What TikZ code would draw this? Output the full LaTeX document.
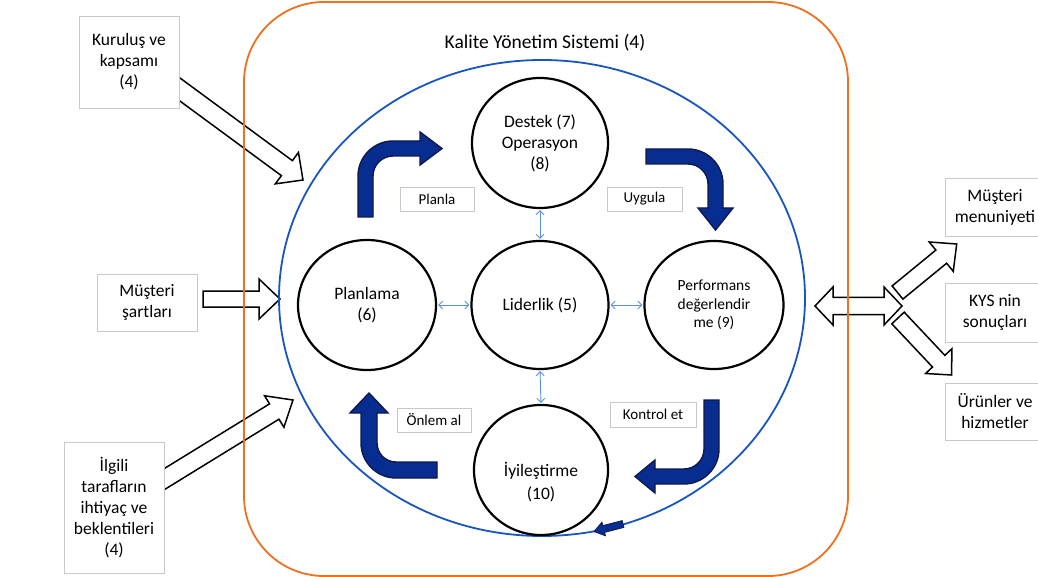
\documentclass[tikz,border=0pt]{standalone}
\usepackage{fontspec}
\setmainfont{Carlito}
\usetikzlibrary{calc,shapes.geometric,arrows.meta}
\pgfdeclarelayer{bg}
\pgfdeclarelayer{back}
\pgfsetlayers{bg,back,main}

\definecolor{kysorange}{RGB}{240,112,32}
\definecolor{kysblue}{RGB}{25,85,190}
\definecolor{linkblue}{RGB}{90,145,215}
\definecolor{navyfill}{RGB}{8,45,145}
\definecolor{navyline}{RGB}{15,25,75}
\definecolor{boxgray}{RGB}{200,200,200}

\tikzset{
  topic/.style={ellipse, draw=black, line width=2.2pt, fill=white, inner sep=0pt,
    align=center, font=\fontsize{17.5}{21}\selectfont},
  sidebox/.style={draw=boxgray, line width=0.8pt, fill=white, inner sep=0pt,
    align=center, font=\fontsize{17.5}{21}\selectfont},
  tagbox/.style={draw=boxgray, line width=0.8pt, fill=white, inner sep=0pt,
    font=\fontsize{15}{18}\selectfont},
  whitearrow/.style={draw=black, line width=1.5pt, fill=white, line join=miter},
  cyclearrow/.style={draw=navyline, line width=1.4pt, fill=navyfill, line join=miter},
  link/.style={linkblue, line width=0.9pt, shorten >=1pt, shorten <=1pt,
    {Straight Barb[length=4pt,width=8pt]}-{Straight Barb[length=4pt,width=8pt]}},
}

% block arrow: style, tail, tip, half shaft width, half head width, head length
\newcommand\blockarrow[6]{%
  \coordinate (ba-hb) at ($(#3)!#6!(#2)$);
  \draw[#1] ($(#2)!#4!90:(#3)$) -- ($(ba-hb)!#4!90:(#3)$) -- ($(ba-hb)!#5!90:(#3)$)
    -- (#3) -- ($(ba-hb)!#5!-90:(#3)$) -- ($(ba-hb)!#4!-90:(#3)$)
    -- ($(#2)!#4!-90:(#3)$) -- cycle;}

% double-headed block arrow: style, tip a, tip b, half shaft, half head, head length
\newcommand\dblockarrow[6]{%
  \coordinate (da-ha) at ($(#2)!#6!(#3)$);
  \coordinate (da-hb) at ($(#3)!#6!(#2)$);
  \draw[#1] (#2) -- ($(da-ha)!#5!90:(#3)$) -- ($(da-ha)!#4!90:(#3)$)
    -- ($(da-hb)!#4!-90:(#2)$) -- ($(da-hb)!#5!-90:(#2)$) -- (#3)
    -- ($(da-hb)!#5!90:(#2)$) -- ($(da-hb)!#4!90:(#2)$)
    -- ($(da-ha)!#4!-90:(#3)$) -- ($(da-ha)!#5!-90:(#3)$) -- cycle;}

\begin{document}
\begin{tikzpicture}[x=1pt,y=-1pt]
\useasboundingbox (0,0) rectangle (1038,577);
\begin{pgfonlayer}{bg}
  \fill[white] (0,0) rectangle (1038,577);
\end{pgfonlayer}

% system frame and the PDCA ellipse
\node[draw=kysorange, line width=1.8pt, rounded corners=80pt, minimum width=604pt,
  minimum height=574pt, inner sep=0pt] (frame) at (546,289) {};
\node[ellipse, draw=kysblue, line width=1.8pt, minimum width=526pt, minimum height=476pt,
  inner sep=0pt] (kys) at (542,298) {};
\node[font=\fontsize{19.5}{23}\selectfont] (title) at (545,43) {Kalite Yönetim Sistemi (4)};

% clauses
\node[topic, minimum width=136pt, minimum height=130pt] (dest) at (540,143)
  {Destek (7)\\Operasyon\\(8)};
\node[topic, minimum width=137pt, minimum height=128pt] (lid) at (540,305) {Liderlik (5)};
\node[topic, minimum width=138pt, minimum height=130pt] (plan) at (367,305) {Planlama\\(6)};
\node[topic, minimum width=139pt, minimum height=128pt, font=\fontsize{15.5}{18.5}\selectfont]
  (perf) at (714,305) {Performans\\değerlendir\\me (9)};
\node[topic, minimum width=134pt, minimum height=130pt] (iyi) at (541,470) {};
\node[align=center, font=\fontsize{17.5}{23}\selectfont] (iyitxt) at (541,482)
  {İyileştirme\\(10)};

% leadership links
\draw[link] (dest.south) -- (lid.north);
\draw[link] (lid.south) -- (iyi.north);
\draw[link] (plan.east) -- (lid.west);
\draw[link] (lid.east) -- (perf.west);

% cycle step labels
\node[tagbox, minimum width=74pt, minimum height=24pt] (planla) at (437,199) {Planla};
\node[tagbox, minimum width=75pt, minimum height=24pt] (uygula) at (644.5,199) {Uygula};
\node[tagbox, minimum width=74pt, minimum height=24pt] (onlem) at (434,420) {Önlem al};
\node[tagbox, minimum width=86pt, minimum height=25pt] (kontrol) at (653,414.5) {Kontrol et};

% PDCA bent arrows
\draw[cyclearrow] (358,217) -- (358,176) .. controls (358,156.7) and (373.7,141) .. (393,141)
  -- (420,141) -- (420,132) -- (442,148.5) -- (420,165) -- (420,156) -- (393,156)
  .. controls (382,156) and (373,165) .. (373,176) -- (373,217) -- cycle;
\draw[cyclearrow] (646,149) -- (688,149) .. controls (707.3,149) and (723,164.7) .. (723,184)
  -- (723,208) -- (733,208) -- (715.5,230) -- (698,208) -- (708,208) -- (708,184)
  .. controls (708,173) and (699,164) .. (688,164) -- (646,164) -- cycle;
\draw[cyclearrow] (704,400) -- (719,400) -- (719,449) .. controls (719,468.3) and (703.3,484) .. (684,484)
  -- (655,484) -- (655,493) -- (635,476.5) -- (655,460) -- (655,469) -- (684,469)
  .. controls (695,469) and (704,460) .. (704,449) -- cycle;
\draw[cyclearrow] (437,478) -- (396,478) .. controls (376.7,478) and (361,462.3) .. (361,443)
  -- (361,413) -- (350,413) -- (369,393) -- (388,413) -- (377,413) -- (377,443)
  .. controls (377,453.5) and (385.5,462) .. (396,462) -- (437,462) -- cycle;

% small arrow on the ellipse
\coordinate (loopa) at (623,524);
\coordinate (loopb) at (594,531.5);
\blockarrow{cyclearrow, line width=0.8pt}{loopa}{loopb}{3.5pt}{7pt}{10pt}

% inputs and outputs
\node[sidebox, minimum width=100pt, minimum height=92pt] (kur) at (129,62)
  {Kuruluş ve\\kapsamı\\(4)};
\node[sidebox, minimum width=100pt, minimum height=57pt] (sart) at (147,302.5)
  {Müşteri\\şartları};
\node[sidebox, minimum width=100pt, minimum height=131pt] (ilgili) at (114,507.5)
  {İlgili\\tarafların\\ihtiyaç ve\\beklentileri\\(4)};
\node[sidebox, minimum width=100pt, minimum height=58pt] (memnun) at (995,207)
  {Müşteri\\menuniyeti};
\node[sidebox, minimum width=100pt, minimum height=59pt] (sonuc) at (995,312.5)
  {KYS nin\\sonuçları};
\node[sidebox, minimum width=100pt, minimum height=57pt] (urun) at (995,411.5)
  {Ürünler ve\\hizmetler};

\coordinate (kurtail) at (170,82.2);
\coordinate (kurtip) at (303,180);
\coordinate (sarttail) at (203,299);
\coordinate (sarttip) at (280,299);
\coordinate (ilgtail) at (150,487.9);
\coordinate (ilgtip) at (293,400);
\coordinate (outl) at (815,306);
\coordinate (outr) at (902,306);
\coordinate (uptail) at (897.5,292.5);
\coordinate (uptip) at (956.7,244);
\coordinate (dntail) at (898,318);
\coordinate (dntip) at (951.7,375);

\begin{pgfonlayer}{back}
  \blockarrow{whitearrow}{kurtail}{kurtip}{9.3pt}{19.5pt}{20pt}
  \blockarrow{whitearrow}{sarttail}{sarttip}{8pt}{20pt}{21pt}
  \blockarrow{whitearrow}{ilgtail}{ilgtip}{9pt}{18.5pt}{22pt}
  \dblockarrow{whitearrow}{outl}{outr}{8.7pt}{19pt}{18pt}
  \blockarrow{whitearrow}{uptail}{uptip}{8.5pt}{19pt}{20pt}
  \blockarrow{whitearrow}{dntail}{dntip}{8.5pt}{18pt}{19pt}
\end{pgfonlayer}
\end{tikzpicture}
\end{document}
